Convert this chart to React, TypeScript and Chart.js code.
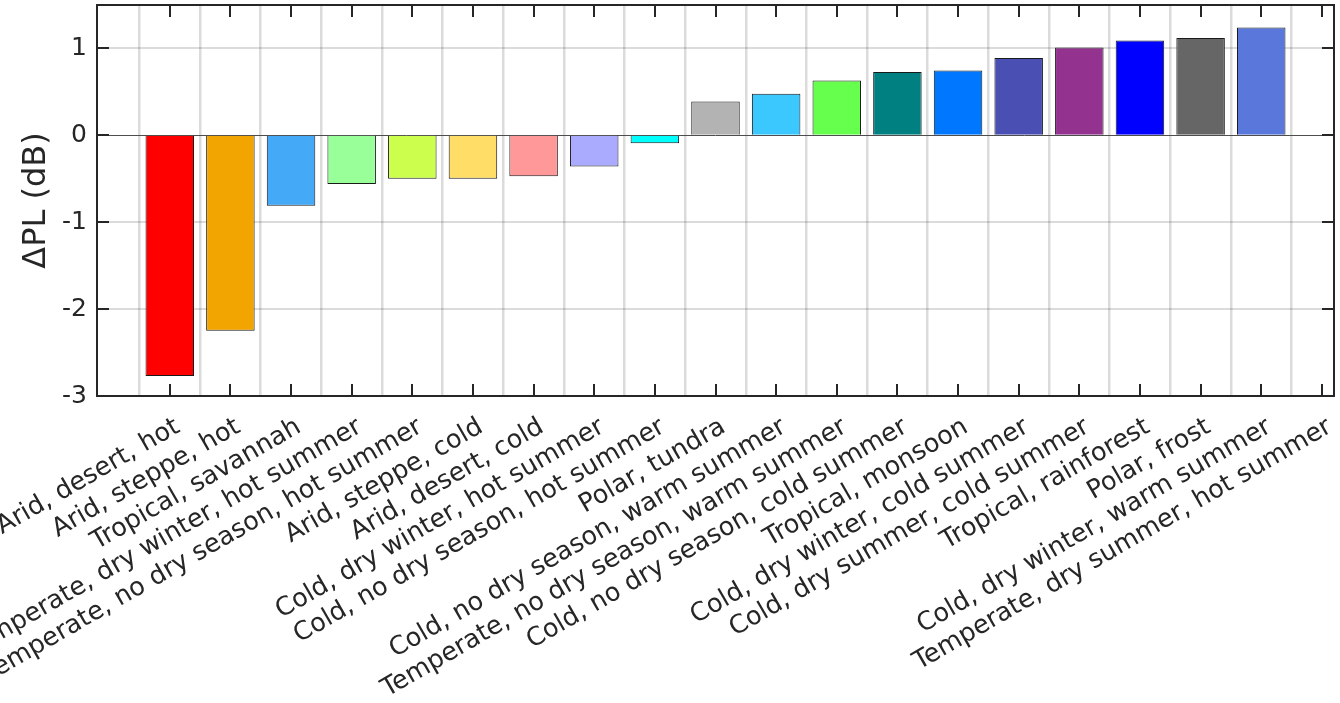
import React, { useEffect, useRef } from "react";
import { Chart, registerables } from "chart.js";

Chart.register(...registerables);

const categories: string[] = [
  "Arid, desert, hot",
  "Arid, steppe, hot",
  "Tropical, savannah",
  "Temperate, dry winter, hot summer",
  "Temperate, no dry season, hot summer",
  "Arid, steppe, cold",
  "Arid, desert, cold",
  "Cold, dry winter, hot summer",
  "Cold, no dry season, hot summer",
  "Polar, tundra",
  "Cold, no dry season, warm summer",
  "Temperate, no dry season, warm summer",
  "Cold, no dry season, cold summer",
  "Tropical, monsoon",
  "Cold, dry winter, cold summer",
  "Cold, dry summer, cold summer",
  "Tropical, rainforest",
  "Polar, frost",
  "Cold, dry winter, warm summer",
  "Temperate, dry summer, hot summer",
];

const deltaPL: (number | null)[] = [
  -2.77, -2.25, -0.81, -0.56, -0.5, -0.5, -0.47, -0.36, -0.09, 0.39,
  0.48, 0.63, 0.73, 0.745, 0.89, 1.01, 1.09, 1.12, 1.24, null,
];

const barColors: string[] = [
  "#ff0000", "#f2a500", "#44aaf8", "#99ff99", "#ccff4d", "#ffdd66",
  "#ff9999", "#aaaaff", "#00ffff", "#b3b3b3", "#3ac8ff", "#66ff4d",
  "#008080", "#0077ff", "#4a4fb4", "#943290", "#0000ff", "#666666",
  "#5a78dc", "#cccccc",
];

const yTicks: number[] = [-3, -2, -1, 0, 1];
const yMin = -3;
const yMax = 1.5;
const xMin = -0.2;
const xMax = 20.2;

const FONT = "'DejaVu Sans', 'Liberation Sans', Arial, sans-serif";
const TEXT = "#262626";

const framePlugin = {
  id: "frame",
  afterDraw(chart: any) {
    const { ctx, chartArea } = chart;
    const { left, right, top, bottom } = chartArea;
    const xs = chart.scales.x;
    const ys = chart.scales.y;
    ctx.save();
    ctx.strokeStyle = TEXT;
    ctx.lineWidth = 2;
    const tl = 12;
    ctx.beginPath();
    xs.ticks.forEach((t: any) => {
      const px = Math.round(xs.getPixelForValue(t.value));
      ctx.moveTo(px, bottom);
      ctx.lineTo(px, bottom - tl);
      ctx.moveTo(px, top);
      ctx.lineTo(px, top + tl);
    });
    ys.ticks.forEach((t: any) => {
      const py = Math.round(ys.getPixelForValue(t.value));
      ctx.moveTo(left, py);
      ctx.lineTo(left + tl, py);
      ctx.moveTo(right, py);
      ctx.lineTo(right - tl, py);
    });
    ctx.stroke();
    ctx.strokeRect(left, top, right - left, bottom - top);
    ctx.restore();
  },
};

export default function App() {
  const canvasRef = useRef<HTMLCanvasElement | null>(null);

  useEffect(() => {
    if (!canvasRef.current) return;
    const chart = new Chart(canvasRef.current, {
      type: "bar",
      data: {
        datasets: [
          {
            data: categories.map((_, i) => ({ x: i + 1, y: deltaPL[i] })) as any,
            backgroundColor: barColors,
            borderColor: "#1a1a1a",
            borderWidth: 1,
            barPercentage: 0.8,
            categoryPercentage: 1.0,
          },
        ],
      },
      options: {
        animation: false,
        responsive: false,
        maintainAspectRatio: false,
        layout: { padding: { top: 5, right: 6, left: 0, bottom: 0 } },
        plugins: {
          legend: { display: false },
          tooltip: { enabled: false },
        },
        scales: {
          x: {
            type: "linear",
            min: xMin,
            max: xMax,
            offset: false,
            afterBuildTicks: (axis: any) => {
              axis.ticks = categories.map((_, i) => ({ value: i + 1 }));
            },
            afterFit: (scale: any) => {
              scale.height = 307;
              scale.paddingLeft = 0;
              scale.paddingRight = 0;
              scale.paddingTop = 0;
              scale.paddingBottom = 0;
            },
            border: { display: false },
            grid: {
              color: "rgba(0,0,0,0.14)",
              lineWidth: 2.5,
              drawTicks: false,
            },
            ticks: {
              autoSkip: false,
              minRotation: 30,
              maxRotation: 30,
              padding: 16,
              labelOffset: 8,
              color: TEXT,
              font: { family: FONT, size: 25.5 },
              callback: (v: any) => categories[Number(v) - 1] ?? "",
            },
          },
          y: {
            type: "linear",
            min: yMin,
            max: yMax,
            afterBuildTicks: (axis: any) => {
              axis.ticks = yTicks.map((v) => ({ value: v }));
            },
            afterFit: (scale: any) => {
              scale.width = 97;
              scale.paddingTop = 0;
              scale.paddingBottom = 0;
              scale.paddingLeft = 0;
              scale.paddingRight = 0;
            },
            border: { display: false },
            grid: {
              color: (c: any) => (c.tick && c.tick.value === 0 ? "#4d4d4d" : "rgba(0,0,0,0.14)"),
              lineWidth: (c: any) => (c.tick && c.tick.value === 0 ? 1 : 2),
              drawTicks: false,
            },
            ticks: {
              padding: 10,
              color: TEXT,
              font: { family: FONT, size: 25 },
              callback: (v: any) => String(v),
            },
            title: {
              display: true,
              text: "ΔPL (dB)",
              color: TEXT,
              font: { family: FONT, size: 32 },
              padding: { top: 17, bottom: 0 },
            },
          },
        },
      },
      plugins: [framePlugin],
    });
    return () => chart.destroy();
  }, []);

  return (
    <div style={{ position: "absolute", left: 0, top: 0, width: 1340, height: 703, background: "#fff" }}>
      <canvas ref={canvasRef} width={1340} height={703} style={{ display: "block" }} />
    </div>
  );
}
